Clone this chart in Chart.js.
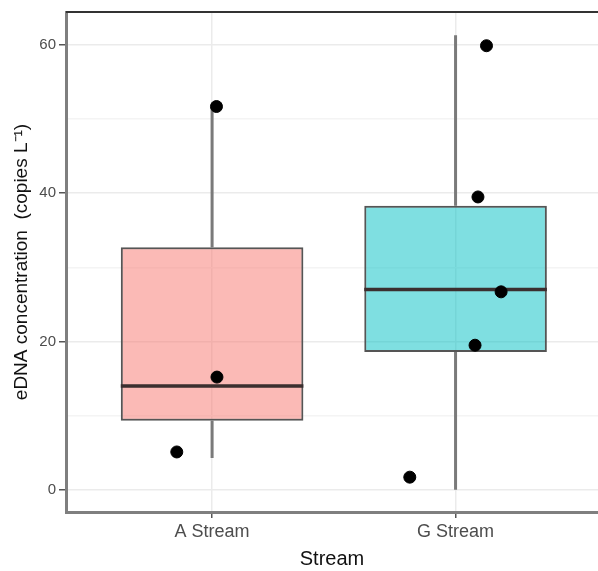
<!DOCTYPE html>
<html>
<head>
<meta charset="utf-8">
<script src="https://cdn.jsdelivr.net/npm/chart.js@4"></script>
<style>
  body { margin: 0; background: #fff; }
</style>
</head>
<body>
<canvas id="boxChart" width="598" height="571"></canvas>
<script>
const categories = ['A Stream', 'G Stream'];
const whiskerLow = [4.3, 0.0];
const q1 = [9.3, 18.6];
const median = [14.0, 27.0];
const q3 = [32.7, 38.3];
const whiskerHigh = [51.6, 61.3];
const boxColors = ['rgba(248,118,109,0.5)', 'rgba(0,191,196,0.5)'];

// jittered sample points (x in category units: 1 = A, 2 = G)
const pointX = [0.855, 1.02, 1.018, 2.127, 2.092, 2.187, 2.08, 1.812];
const pointY = [5.1, 15.2, 51.7, 59.9, 39.5, 26.7, 19.5, 1.7];

const yTicks = [0, 10, 20, 30, 40, 50, 60];
const boxWidth = 0.75;

const font = "'Liberation Sans', Arial, sans-serif";

const whiskerData = [];
categories.forEach((c, i) => {
  whiskerData.push({x: i + 1, y: whiskerLow[i]}, {x: i + 1, y: q1[i]}, {x: i + 1, y: null});
  whiskerData.push({x: i + 1, y: q3[i]}, {x: i + 1, y: whiskerHigh[i]}, {x: i + 1, y: null});
});

const medianData = [];
categories.forEach((c, i) => {
  medianData.push({x: i + 1 - boxWidth / 2, y: median[i]}, {x: i + 1 + boxWidth / 2, y: median[i]}, {x: i + 1, y: null});
});

// top panel border (ggplot theme_bw style)
const panelBorder = {
  id: 'panelBorder',
  afterDraw(chart) {
    const {ctx, chartArea} = chart;
    ctx.save();
    ctx.strokeStyle = '#333';
    ctx.lineWidth = 2;
    ctx.beginPath();
    ctx.moveTo(chartArea.left, chartArea.top);
    ctx.lineTo(chartArea.right, chartArea.top);
    ctx.stroke();
    ctx.restore();
  }
};

new Chart(document.getElementById('boxChart'), {
  data: {
    datasets: [
      {
        type: 'scatter',
        data: pointX.map((x, i) => ({x, y: pointY[i]})),
        backgroundColor: '#000',
        borderColor: '#000',
        pointRadius: 6,
        order: 0
      },
      {
        type: 'line',
        data: medianData,
        borderColor: '#3b2f2f',
        borderWidth: 3.5,
        pointRadius: 0,
        spanGaps: false,
        order: 1
      },
      {
        type: 'bar',
        data: categories.map((c, i) => ({x: i + 1, y: [q1[i], q3[i]]})),
        backgroundColor: boxColors,
        borderColor: '#555',
        borderWidth: 2,
        borderSkipped: false,
        barPercentage: boxWidth,
        categoryPercentage: 1,
        order: 2
      },
      {
        type: 'line',
        data: whiskerData,
        borderColor: '#7a7a7a',
        borderWidth: 3,
        pointRadius: 0,
        spanGaps: false,
        order: 3
      }
    ]
  },
  options: {
    responsive: false,
    animation: false,
    layout: { autoPadding: false, padding: { top: 12, right: 0, bottom: 0, left: 0 } },
    plugins: { legend: { display: false }, tooltip: { enabled: false } },
    scales: {
      x: {
        type: 'linear',
        offset: false,
        min: 0.4,
        max: 2.585,
        afterBuildTicks: axis => { axis.ticks = categories.map((c, i) => ({value: i + 1})); },
        afterFit: axis => {
          axis.height = 59;
          axis.paddingLeft = 0;
          axis.paddingRight = 0;
        },
        ticks: {
          callback: v => categories[v - 1],
          color: '#4d4d4d',
          font: { family: font, size: 18 },
          padding: 3,
          maxRotation: 0
        },
        grid: { offset: false, color: '#ebebeb', lineWidth: 1.5, tickColor: '#555', tickLength: 6 },
        border: { color: '#7f7f7f', width: 3 },
        title: {
          display: true,
          text: 'Stream',
          color: '#111',
          font: { family: font, size: 20 },
          padding: { top: 0, bottom: 0 }
        }
      },
      y: {
        type: 'linear',
        min: -3,
        max: 64.45,
        afterBuildTicks: axis => { axis.ticks = yTicks.map(v => ({value: v})); },
        afterFit: axis => {
          axis.width = 66;
          axis.paddingTop = 0;
          axis.paddingBottom = 0;
        },
        ticks: {
          callback: v => (v % 20 === 0 ? v : ''),
          color: '#4d4d4d',
          font: { family: font, size: 15 },
          padding: 3
        },
        grid: {
          color: ctx => (ctx.tick && ctx.tick.value % 20 === 0 ? '#ebebeb' : '#f4f4f4'),
          lineWidth: 1.5,
          tickColor: ctx => (ctx.tick && ctx.tick.value % 20 === 0 ? '#555' : 'rgba(0,0,0,0)'),
          tickLength: 7
        },
        border: { color: '#7f7f7f', width: 3 },
        title: {
          display: true,
          text: 'eDNA concentration  (copies L\u207B\u00B9)',
          color: '#111',
          font: { family: font, size: 19 },
          padding: { top: 10, bottom: 0 }
        }
      }
    }
  },
  plugins: [panelBorder]
});
</script>
</body>
</html>
